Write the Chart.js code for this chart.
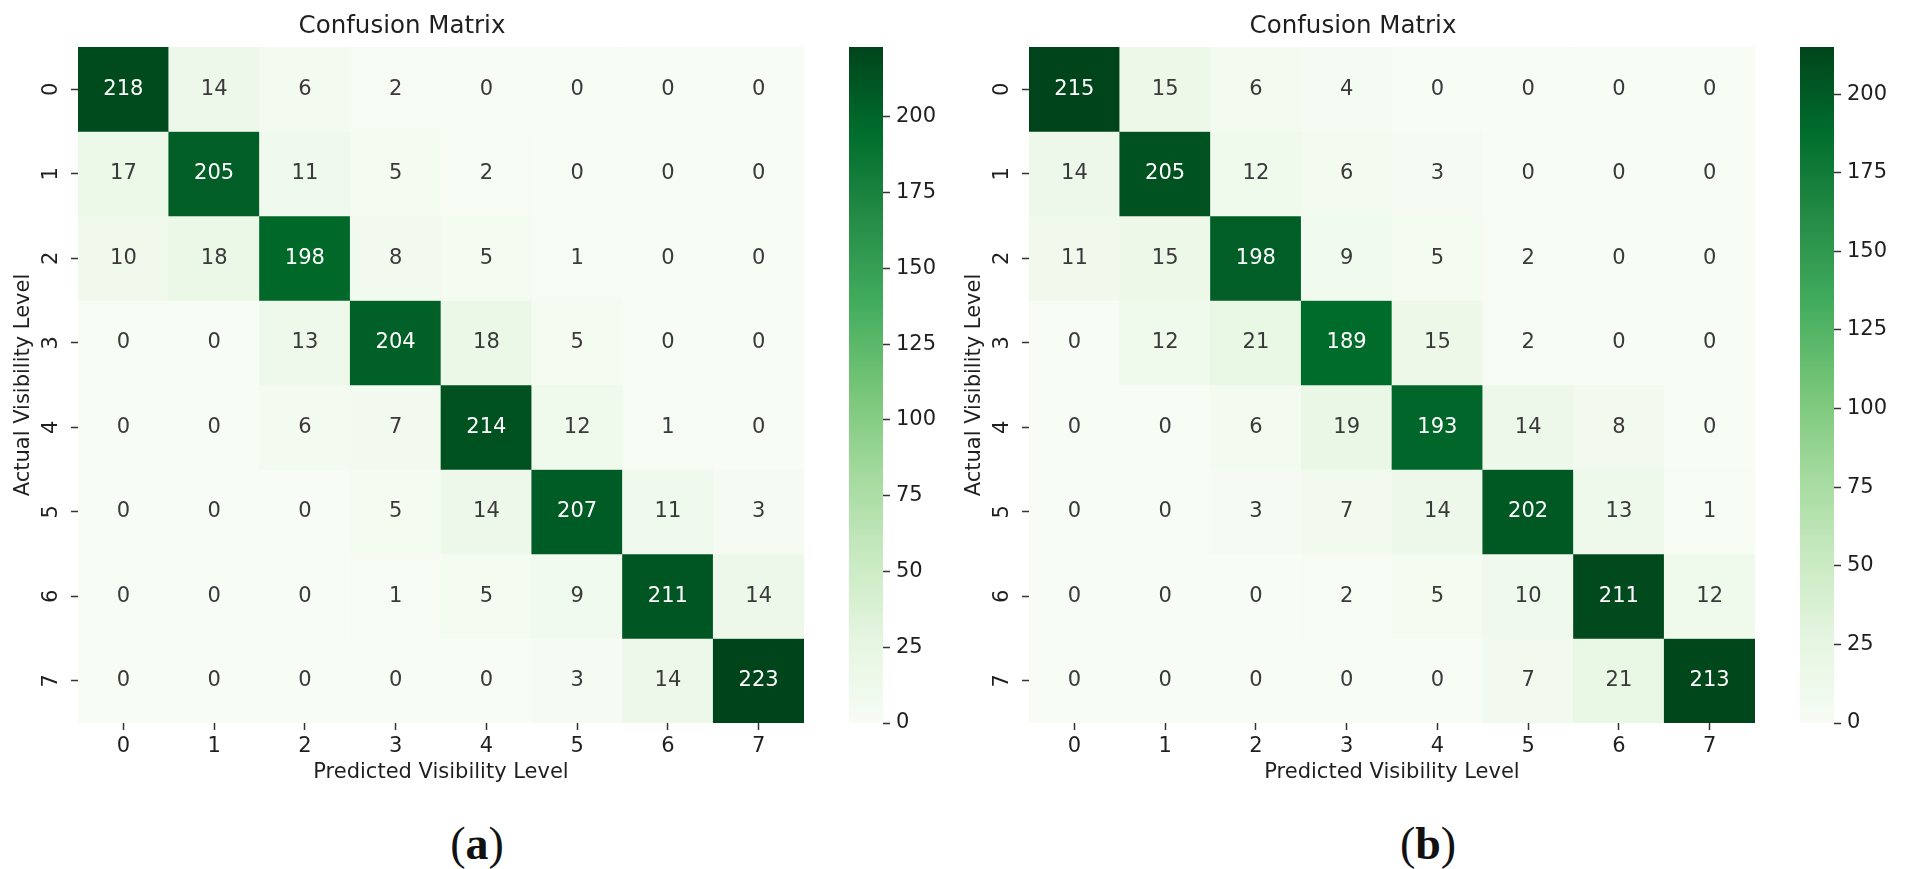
<!DOCTYPE html>
<html><head><meta charset="utf-8">
<script src="https://cdn.jsdelivr.net/npm/chart.js@4.4.0/dist/chart.umd.min.js"></script>
<style>
html,body{margin:0;padding:0;background:#fff;width:1905px;height:869px;overflow:hidden;position:relative;}
canvas{position:absolute;top:0;}
.cap{position:absolute;top:844px;font-family:"Liberation Serif","DejaVu Serif",serif;font-weight:normal;font-size:46px;line-height:1;color:#111;transform:translate(-50%,-50%);white-space:nowrap;}
.cap b{font-weight:bold;}
</style></head><body>
<canvas id="heatA" width="882" height="800" style="left:0px"></canvas>
<canvas id="cbarA" width="130" height="800" style="left:830px"></canvas>
<canvas id="heatB" width="882" height="800" style="left:951px"></canvas>
<canvas id="cbarB" width="130" height="800" style="left:1781px"></canvas>
<div class="cap" style="left:477px">(<b>a</b>)</div>
<div class="cap" style="left:1428px">(<b>b</b>)</div>
<script>
// ---- data ----
const predictedLabels = ['0','1','2','3','4','5','6','7'];
const actualLabels = ['0','1','2','3','4','5','6','7'];
const matrixA = [
  [218, 14,   6,   2,   0,   0,   0,   0],
  [ 17, 205, 11,   5,   2,   0,   0,   0],
  [ 10, 18, 198,   8,   5,   1,   0,   0],
  [  0,  0,  13, 204,  18,   5,   0,   0],
  [  0,  0,   6,   7, 214,  12,   1,   0],
  [  0,  0,   0,   5,  14, 207,  11,   3],
  [  0,  0,   0,   1,   5,   9, 211,  14],
  [  0,  0,   0,   0,   0,   3,  14, 223]
];
const matrixB = [
  [215, 15,   6,   4,   0,   0,   0,   0],
  [ 14, 205, 12,   6,   3,   0,   0,   0],
  [ 11, 15, 198,   9,   5,   2,   0,   0],
  [  0, 12,  21, 189,  15,   2,   0,   0],
  [  0,  0,   6,  19, 193,  14,   8,   0],
  [  0,  0,   3,   7,  14, 202,  13,   1],
  [  0,  0,   0,   2,   5,  10, 211,  12],
  [  0,  0,   0,   0,   0,   7,  21, 213]
];
const colorbarTicks = [0, 25, 50, 75, 100, 125, 150, 175, 200];
const chartTitle = 'Confusion Matrix';
const xTitle = 'Predicted Visibility Level';
const yTitle = 'Actual Visibility Level';

// ---- style ----
const GREENS = ['#f7fcf5','#e5f5e0','#c7e9c0','#a1d99b','#74c476','#41ab5d','#238b45','#006d2c','#00441b'];
const FONT = '"DejaVu Sans", sans-serif';
const TXT = '#1f1f1f';
const TICKC = '#333333';

function hexToRgb(h){return [parseInt(h.slice(1,3),16),parseInt(h.slice(3,5),16),parseInt(h.slice(5,7),16)];}
const GRGB = GREENS.map(hexToRgb);
function greens(t){
  t = Math.max(0, Math.min(1, t));
  const p = t * (GRGB.length - 1);
  const i = Math.min(Math.floor(p), GRGB.length - 2);
  const f = p - i;
  const c = GRGB[i].map((v, k) => Math.round(v + (GRGB[i+1][k] - v) * f));
  return `rgb(${c[0]},${c[1]},${c[2]})`;
}
function lum(rgbStr){
  const c = rgbStr.match(/\d+/g).map(Number).map(v => {
    v /= 255; return v <= 0.03928 ? v / 12.92 : Math.pow((v + 0.055) / 1.055, 2.4);
  });
  return 0.2126*c[0] + 0.7152*c[1] + 0.0722*c[2];
}

const cellText = {
  id: 'cellText',
  afterDatasetsDraw(chart){
    const ctx = chart.ctx;
    ctx.save();
    ctx.font = `21px ${FONT}`;
    ctx.textAlign = 'center';
    ctx.textBaseline = 'middle';
    chart.data.datasets.forEach((ds, di) => {
      chart.getDatasetMeta(di).data.forEach((bar, i) => {
        const p = bar.getCenterPoint();
        ctx.fillStyle = lum(ds.backgroundColor[i]) > 0.408 ? '#3a3a3a' : '#ffffff';
        ctx.fillText(String(ds.values[i]), p.x, p.y);
      });
    });
    ctx.restore();
  }
};

function heatmap(id, matrix){
  const vmax = Math.max(...matrix.flat());
  const datasets = matrix.map((row, r) => ({
    data: row.map(() => [r - 0.5, r + 0.5]),
    values: row,
    backgroundColor: row.map(v => greens(v / vmax)),
    borderWidth: 0,
    barPercentage: 1,
    categoryPercentage: 1,
    grouped: false
  }));
  new Chart(document.getElementById(id), {
    type: 'bar',
    data: { labels: predictedLabels, datasets },
    options: {
      responsive: false, animation: false,
      layout: { padding: { left: 0, right: 78, top: 0, bottom: 0 } },
      plugins: {
        legend: { display: false }, tooltip: { enabled: false },
        title: { display: true, text: chartTitle, color: TXT,
          font: { family: FONT, size: 24.5, weight: 'normal', lineHeight: 1.2 },
          padding: { top: 12, bottom: 5.6 } }
      },
      scales: {
        x: {
          type: 'category', offset: true,
          grid: { display: true, drawOnChartArea: false, offset: false, tickLength: 7, tickColor: TICKC, tickWidth: 1.5 },
          border: { display: false },
          ticks: { color: TXT, font: { family: FONT, size: 21 }, padding: 4, maxRotation: 0, autoSkip: false },
          title: { display: true, text: xTitle, color: TXT, font: { family: FONT, size: 21, lineHeight: 1.2 }, padding: { top: 0, bottom: 14.4 } },
          afterFit(s){ s.height = 77; }
        },
        y: {
          type: 'linear', reverse: true, min: -0.5, max: 7.5,
          afterBuildTicks(s){ s.ticks = actualLabels.map((_, i) => ({ value: i })); },
          grid: { display: true, drawOnChartArea: false, tickLength: 7, tickColor: TICKC, tickWidth: 1.5 },
          border: { display: false },
          ticks: { color: TXT, font: { family: FONT, size: 21 }, minRotation: 90, maxRotation: 90, crossAlign: 'center', padding: 12.3,
            callback: (v) => actualLabels[v] },
          title: { display: true, text: yTitle, color: TXT, font: { family: FONT, size: 21, lineHeight: 1.2 }, padding: { top: 11.4, bottom: 0 } },
          afterFit(s){ s.width = 78; }
        }
      }
    },
    plugins: [cellText]
  });
  return vmax;
}

function colorbar(id, vmax){
  new Chart(document.getElementById(id), {
    type: 'bar',
    data: { labels: [''], datasets: [{
      data: [[0, vmax]],
      backgroundColor: (c) => {
        const ch = c.chart;
        if (!ch.chartArea) return GREENS[0];
        const ys = ch.scales.y;
        const g = ch.ctx.createLinearGradient(0, ys.getPixelForValue(0), 0, ys.getPixelForValue(vmax));
        GREENS.forEach((col, i) => g.addColorStop(i / (GREENS.length - 1), col));
        return g;
      },
      borderWidth: 0, barPercentage: 1, categoryPercentage: 1
    }]},
    options: {
      responsive: false, animation: false,
      layout: { padding: { left: 19, top: 47, bottom: 77, right: 0 } },
      plugins: { legend: { display: false }, tooltip: { enabled: false } },
      scales: {
        x: { display: false },
        y: {
          position: 'right', min: 0, max: vmax,
          afterBuildTicks(s){ s.ticks = colorbarTicks.map(v => ({ value: v })); },
          grid: { display: true, drawOnChartArea: false, tickLength: 7, tickColor: TICKC, tickWidth: 1.5 },
          border: { display: false },
          ticks: { color: TXT, font: { family: FONT, size: 21 }, padding: 6 },
          afterFit(s){ s.width = 77; }
        }
      }
    }
  });
}

const vmaxA = heatmap('heatA', matrixA);
colorbar('cbarA', vmaxA);
const vmaxB = heatmap('heatB', matrixB);
colorbar('cbarB', vmaxB);
</script>
</body></html>
